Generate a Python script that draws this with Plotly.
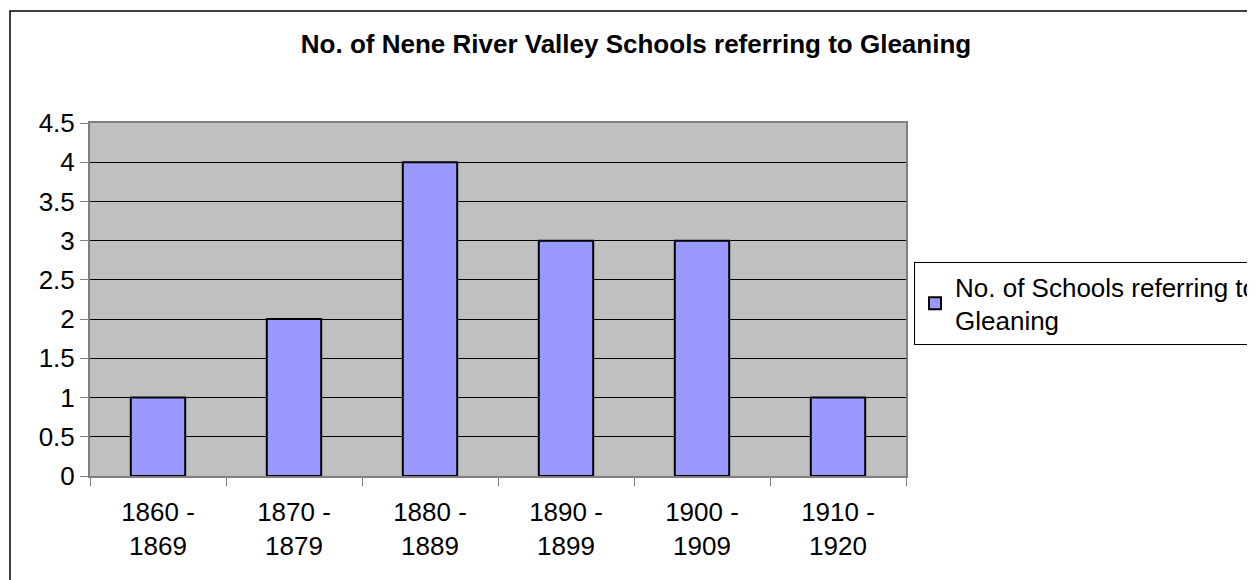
import plotly.graph_objects as go

decades = ["1860 -<br>1869", "1870 -<br>1879", "1880 -<br>1889", "1890 -<br>1899", "1900 -<br>1909", "1910 -<br>1920"]
schools = [1, 2, 4, 3, 3, 1]
y_ticks = [0, 0.5, 1, 1.5, 2, 2.5, 3, 3.5, 4, 4.5]

# page body adds an 8px offset, so plot-area pixels below are reference minus 8
L, R, T, B = 82, 898, 115, 468
W, H = 1255, 580
pw, ph = R - L, B - T

fnt = dict(family="Liberation Sans, Arial, sans-serif", size=26, color="black")

fig = go.Figure()
fig.add_trace(go.Bar(
    name="No. of Schools referring to<br>Gleaning",
    x=decades, y=schools,
    marker=dict(color="#9999FF", line=dict(color="black", width=2)),
))

fig.update_layout(
    width=W, height=H,
    margin=dict(l=L, r=W - R, t=T, b=H - B, autoexpand=False),
    paper_bgcolor="white", plot_bgcolor="#C0C0C0",
    font=fnt,
    bargap=0.6,
    showlegend=True,
    title=dict(text="<b>No. of Nene River Valley Schools referring to Gleaning</b>",
               x=628 / W, xanchor="center", xref="container",
               y=1 - 36 / H, yanchor="middle", yref="container",
               font=dict(family="Liberation Sans, Arial, sans-serif", size=26, color="black")),
    legend=dict(x=(906 - L) / pw, xanchor="left", y=(B - 254) / ph, yanchor="top",
                bgcolor="white", bordercolor="black", borderwidth=1,
                font=fnt, itemwidth=30, tracegroupgap=0),
    xaxis=dict(showgrid=False, ticks="outside", tickson="boundaries", ticklen=8,
               tickcolor="#808080", showline=True, linecolor="#808080", linewidth=2,
               mirror=True, tickfont=fnt, ticklabelstandoff=12),
    yaxis=dict(range=[0, 4.5], tickvals=y_ticks, ticktext=[f"{v:g}" for v in y_ticks],
               showgrid=True, gridcolor="black", gridwidth=1, ticks="outside", ticklen=8,
               tickcolor="#808080", showline=True, linecolor="#808080", linewidth=2,
               mirror=True, zeroline=False, tickfont=fnt),
    shapes=[dict(type="rect", xref="paper", yref="paper",
                 x0=(2 - L) / pw, x1=(W + 20 - L) / pw,
                 y0=-(H + 20 - B) / ph, y1=(B - 3) / ph,
                 line=dict(color="black", width=1.5), fillcolor="rgba(0,0,0,0)", layer="below")],
)

fig.write_html("out.html")
